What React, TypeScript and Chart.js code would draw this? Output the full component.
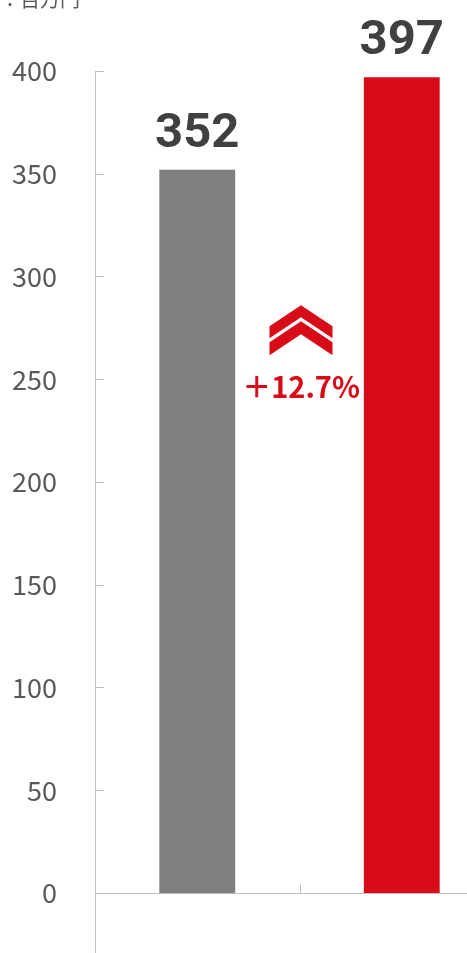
import React, { useEffect, useRef } from "react";
import { Chart, registerables } from "chart.js";

Chart.register(...registerables);

const categories = ["前期", "当期"];
const values = [352, 397];
const barColors = ["#7f7f7f", "#d80c18"];
const yTicks = [0, 50, 100, 150, 200, 250, 300, 350, 400];
const unitLabel = "：百万円";
const growthLabel = "＋12.7%";
const growthAnchorValue = 286;

const FONT = "'Noto Sans CJK JP', 'Noto Sans', sans-serif";
const NUMFONT = "Roboto, 'Noto Sans', sans-serif";
const AXIS = "#bfbfbf";
const RED = "#d80c18";

const decorPlugin = {
  id: "decor",
  afterDraw(chart: any) {
    const ctx = chart.ctx;
    const x = chart.scales.x;
    const y = chart.scales.y;
    const area = chart.chartArea;
    ctx.save();
    // y axis line
    ctx.strokeStyle = AXIS;
    ctx.lineWidth = 1;
    ctx.beginPath();
    ctx.moveTo(area.left + 0.5, area.top);
    ctx.lineTo(area.left + 0.5, area.bottom);
    ctx.stroke();
    // y ticks inward
    yTicks.forEach((v) => {
      const py = Math.round(y.getPixelForValue(v)) + 0.5;
      ctx.beginPath();
      ctx.moveTo(area.left, py);
      ctx.lineTo(area.left + 9, py);
      ctx.stroke();
    });
    // baseline at zero
    const y0 = Math.round(y.getPixelForValue(0)) + 0.5;
    ctx.beginPath();
    ctx.moveTo(area.left, y0);
    ctx.lineTo(area.right, y0);
    ctx.stroke();
    // category separator tick
    const mid = (x.getPixelForValue(0) + x.getPixelForValue(1)) / 2;
    ctx.beginPath();
    ctx.moveTo(Math.round(mid) + 0.5, y0);
    ctx.lineTo(Math.round(mid) + 0.5, y0 - 9);
    ctx.stroke();

    // value labels
    const meta = chart.getDatasetMeta(0);
    ctx.fillStyle = "#404040";
    ctx.font = `bold 49px ${NUMFONT}`;
    ctx.textAlign = "center";
    ctx.textBaseline = "alphabetic";
    meta.data.forEach((bar: any, i: number) => {
      ctx.fillText(String(values[i]), bar.x, bar.y - 23);
    });

    // chevrons
    const cx = mid + 1.5;
    const top = y.getPixelForValue(growthAnchorValue);
    const half = 31.5;
    const rise = 21;
    const drawChevron = (a: number, h: number) => {
      ctx.beginPath();
      ctx.moveTo(cx - half, a + rise);
      ctx.lineTo(cx, a);
      ctx.lineTo(cx + half, a + rise);
      ctx.lineTo(cx + half, a + rise + h);
      ctx.lineTo(cx, a + h);
      ctx.lineTo(cx - half, a + rise + h);
      ctx.closePath();
      ctx.fill();
    };
    ctx.fillStyle = RED;
    drawChevron(top, 12);
    drawChevron(top + 16, 13);

    ctx.font = `bold 29px ${FONT}`;
    ctx.fillText(growthLabel, cx, top + 93);

    // unit
    ctx.fillStyle = "#595959";
    ctx.font = `20px ${FONT}`;
    ctx.textAlign = "left";
    ctx.fillText(unitLabel, 0, 7);
    ctx.restore();
  },
};

export default function App() {
  const ref = useRef<HTMLCanvasElement>(null);
  useEffect(() => {
    if (!ref.current) return;
    const chart = new Chart(ref.current, {
      type: "bar",
      data: {
        labels: categories,
        datasets: [
          {
            data: values,
            backgroundColor: barColors,
            barPercentage: 0.371,
            categoryPercentage: 1,
          },
        ],
      },
      options: {
        animation: false,
        responsive: false,
        devicePixelRatio: 1,
        layout: { padding: { top: 71, left: 0, right: 0, bottom: 0 } },
        plugins: { legend: { display: false }, tooltip: { enabled: false } },
        scales: {
          x: { display: false, offset: true },
          y: {
            min: -29.2,
            max: 400,
            grid: { display: false, drawTicks: false },
            border: { display: false },
            afterBuildTicks: (s: any) => {
              s.ticks = yTicks.map((v) => ({ value: v }));
            },
            afterFit: (s: any) => {
              s.width = 95;
              s.paddingTop = 0;
              s.paddingBottom = 0;
            },
            ticks: {
              padding: 38,
              color: "#595959",
              font: { family: FONT, size: 27 },
            },
          },
        },
      },
      plugins: [decorPlugin],
    });
    return () => chart.destroy();
  }, []);
  return (
    <div style={{ position: "absolute", left: 0, top: 0, width: 467, height: 953, overflow: "hidden", background: "#fff" }}>
      <canvas ref={ref} width={504} height={953} style={{ display: "block" }} />
    </div>
  );
}
